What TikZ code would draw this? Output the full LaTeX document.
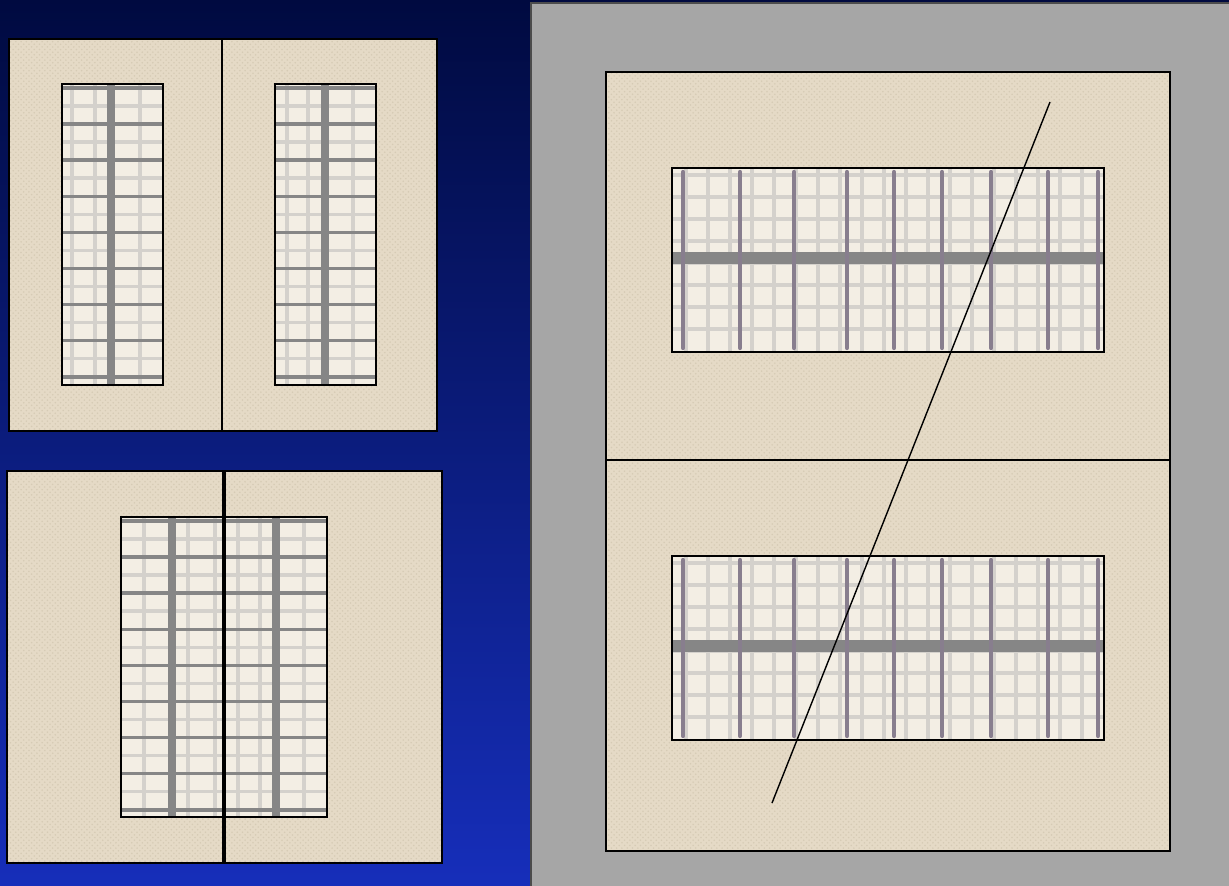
\documentclass[tikz,border=0pt]{standalone}
\usepackage{tikz}
\usetikzlibrary{positioning, patterns}
\definecolor{NightTop}{RGB}{0,10,64}
\definecolor{NightBottom}{RGB}{22,46,186}
\definecolor{SlateGray}{RGB}{166,166,166}
\definecolor{Linen}{RGB}{229,218,198}
\definecolor{LinenDark}{RGB}{214,203,181}
\definecolor{Cream}{RGB}{243,238,228}
\definecolor{BarGray}{RGB}{134,134,134}
\definecolor{FineGray}{RGB}{212,209,204}
\definecolor{Mullion}{RGB}{136,126,142}

\begin{document}
\begin{tikzpicture}[x=0.02cm,y=-0.02cm,
    wall/.style={draw=black,line width=1.2pt,fill=Linen},
    weave/.style={pattern=crosshatch dots,pattern color=LinenDark},
    paneedge/.style={draw=black,line width=0.9pt},
    fine/.style={FineGray,line width=2pt},
    rail/.style={BarGray,line width=2pt},
    stile/.style={BarGray,line width=4.5pt},
    mullion/.style={Mullion,line width=2.4pt,line cap=round}
  ]
  \useasboundingbox (0,0) rectangle (1229,885);
  \shade[top color=NightTop,bottom color=NightBottom] (0,0) rectangle (1229,885);
  % right hand sheet
  \draw[fill=SlateGray,draw=black!70,line width=0.6pt] (531,3) rectangle (1235,890);
  % walls
  \foreach \a/\b/\c/\d in {9/39/222/431, 222/39/437/431, 7/471/224/863,
      224/471/442/863, 606/72/1170/460, 606/460/1170/851} {
    \fill[Linen] (\a,\b) rectangle (\c,\d);
    \fill[weave] (\a,\b) rectangle (\c,\d);
    \draw[wall,fill=none] (\a,\b) rectangle (\c,\d);
  }
  % upper pair of narrow windows
  \foreach \x/\s/\la/\lb/\lc in {62/111/72/95/140, 275/325/287/308/353} {
    \fill[Cream] (\x,84) rectangle ++(101,301);
    \foreach \v in {\la,\lb,\lc} \draw[fine] (\v,85) -- (\v,384);
    \foreach \k in {0,...,7} \draw[fine] (\x+1,106+36.1*\k) -- ++(99,0);
    \foreach \k in {0,...,8} \draw[rail] (\x+1,88+36.1*\k) -- ++(99,0);
    \draw[stile] (\s,85) -- (\s,384);
    \draw[paneedge] (\x,84) rectangle ++(101,301);
  }
  % joined window
  \fill[Cream] (121,517) rectangle (327,817);
  \foreach \v in {144,188,215,238,260,304} \draw[fine] (\v,518) -- (\v,816);
  \foreach \k in {0,...,7} \draw[fine] (122,539+36.1*\k) -- (326,539+36.1*\k);
  \foreach \k in {0,...,8} \draw[rail] (122,521+36.1*\k) -- (326,521+36.1*\k);
  \foreach \s in {172,276} \draw[stile] (\s,518) -- (\s,816);
  \draw[paneedge] (121,517) rectangle (327,817);
  \draw[line width=2.4pt] (224,471) -- (224,863);
  % wide windows
  \foreach \y in {168,556} {
    \fill[Cream] (672,\y) rectangle (1104,\y+184);
    \foreach \k in {0,...,18} \draw[fine] (686+22*\k,\y+1) -- ++(0,182);
    \foreach \k in {0,...,7} \draw[fine] (673,\y+7+22*\k) -- (1103,\y+7+22*\k);
    \draw[BarGray,line width=6.8pt] (673,\y+90) -- (1103,\y+90);
    \foreach \m in {683,740,794,847,894,942,991,1048,1098}
      \draw[mullion] (\m,\y+4) -- (\m,\y+180);
    \draw[paneedge] (672,\y) rectangle (1104,\y+184);
  }
  % cut line
  \coordinate (cutTop) at (1050,102);
  \coordinate (cutEnd) at (772,803);
  \draw[line width=0.8pt] (cutTop) -- (cutEnd);
\end{tikzpicture}
\end{document}
